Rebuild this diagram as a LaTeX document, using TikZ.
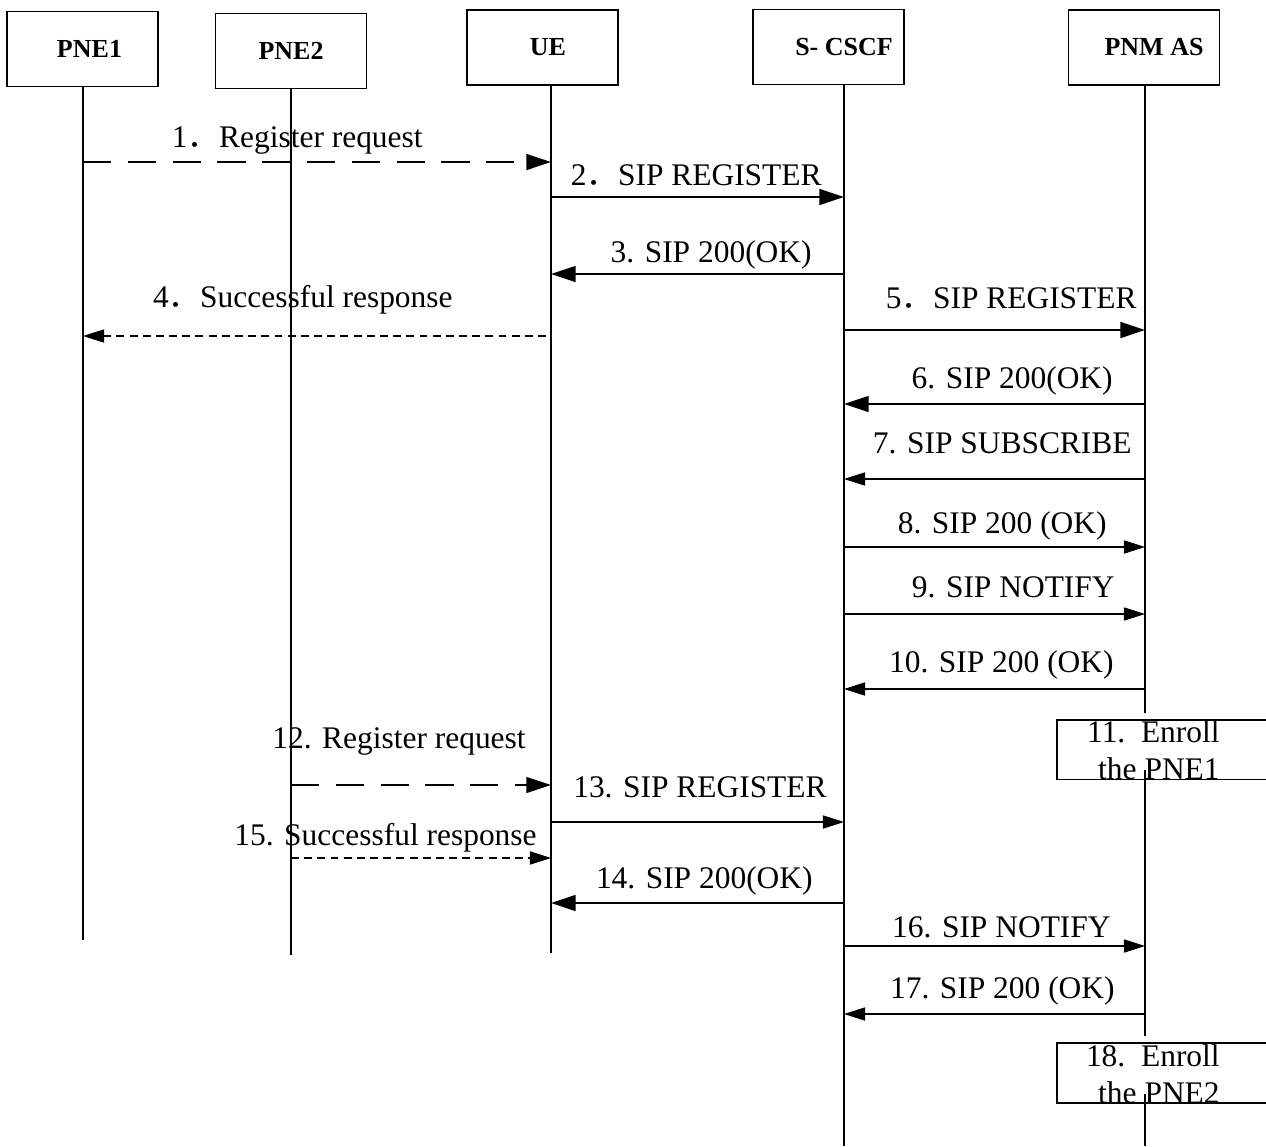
\documentclass[tikz,border=0pt]{standalone}
\usepackage{fontspec}
\setmainfont{Liberation Serif}
\newfontfamily\cjk{Noto Sans CJK SC}
\usetikzlibrary{arrows.meta}
\newcommand{\fstop}{{\cjk ．}}

\begin{document}
\begin{tikzpicture}[x=0.02cm,y=-0.02cm,
  actor/.style={draw,line width=0.85pt,minimum width=3.02cm,minimum height=1.5cm,inner sep=0},
  actorname/.style={font=\fontsize{14.8}{17}\selectfont\bfseries},
  life/.style={line width=0.85pt},
  msg/.style={anchor=base east,inner sep=0,font=\fontsize{17.9}{21}\selectfont},
  bighead/.style={-{Triangle[length=14pt,width=9pt]}},
  smallhead/.style={-{Triangle[length=12pt,width=7.5pt]}},
  thickmsg/.style={line width=1.2pt,bighead},
  thinmsg/.style={line width=0.6pt,smallhead},
  longdash/.style={dash pattern=on 16pt off 9.5pt},
  shortdash/.style={dash pattern=on 4.5pt off 3pt},
  enroll/.style={draw,line width=0.85pt,anchor=north west,minimum width=4.4cm,minimum height=1.2cm,inner sep=0}]

\useasboundingbox (0,0) rectangle (1266,1146);

\node[actor,label={[actorname,xshift=0.14cm]center:PNE1}] (pne1) at (82.5,49) {};
\node[actor,label={[actorname]center:PNE2}] (pne2) at (291,51) {};
\node[actor,label={[actorname,xshift=0.11cm]center:UE}] (ue) at (542.5,47.5) {};
\node[actor,label={[actorname,xshift=0.31cm]center:S- CSCF}] (scscf) at (828.5,47) {};
\node[actor,label={[actorname,xshift=0.2cm]center:PNM AS}] (pnmas) at (1144,47.5) {};

\coordinate (pne1-l) at (83,87);
\coordinate (pne2-l) at (291,89);
\coordinate (ue-l) at (551,85);
\coordinate (scscf-l) at (844,85);
\coordinate (pnmas-l) at (1145,85);

\node[enroll] (enroll1) at (1056,719) {};
\node[enroll] (enroll2) at (1056,1042) {};

% lifelines
\draw[life] (pne1-l) -- (pne1-l |- 0,940);
\draw[life] (pne2-l) -- (pne2-l |- 0,955);
\draw[life] (ue-l) -- (ue-l |- 0,953);
\draw[life] (scscf-l) -- (scscf-l |- 0,1146);
\draw[life] (pnmas-l) -- (pnmas-l |- 0,713);
\draw[life] (pnmas-l |- 0,770) -- (pnmas-l |- 0,1036);
\draw[life] (pnmas-l |- 0,1094) -- (pnmas-l |- 0,1146);

% registration of PNE1
\draw[thickmsg,longdash] (pne1-l |- 0,162) -- (ue-l |- 0,162);
\node[msg] (m1) at (423,147) {1\fstop Register request};
\draw[thickmsg] (ue-l |- 0,197) -- (scscf-l |- 0,197);
\node[msg] (m2) at (822,185) {2\fstop SIP REGISTER};
\draw[thickmsg] (scscf-l |- 0,274) -- (ue-l |- 0,274);
\node[msg] (m3) at (812,262) {3. SIP 200(OK)};
\draw[thinmsg,shortdash] (ue-l |- 0,336) ++(-5,0) -- (pne1-l |- 0,336);
\node[msg] (m4) at (453,307) {4\fstop Successful response};
\draw[thickmsg] (scscf-l |- 0,330) -- (pnmas-l |- 0,330);
\node[msg] (m5) at (1137,308) {5\fstop SIP REGISTER};
\draw[thickmsg] (pnmas-l |- 0,404) -- (scscf-l |- 0,404);
\node[msg] (m6) at (1113,388) {6. SIP 200(OK)};
\draw[thinmsg] (pnmas-l |- 0,479) -- (scscf-l |- 0,479);
\node[msg] (m7) at (1132,453) {7. SIP SUBSCRIBE};
\draw[thinmsg] (scscf-l |- 0,547) -- (pnmas-l |- 0,547);
\node[msg] (m8) at (1107,533) {8. SIP 200 (OK)};
\draw[thinmsg] (scscf-l |- 0,614) -- (pnmas-l |- 0,614);
\node[msg] (m9) at (1115,597) {9. SIP NOTIFY};
\draw[thinmsg] (pnmas-l |- 0,689) -- (scscf-l |- 0,689);
\node[msg] (m10) at (1114,672) {10. SIP 200 (OK)};
\node[msg,align=right,anchor=north east] (t11) at (1220,720.5) {11.\ \ Enroll\\the PNE1};

% registration of PNE2
\draw[line width=0.9pt,bighead,longdash] (pne2-l |- 0,785) -- (ue-l |- 0,785);
\node[msg] (m12) at (526,748) {12. Register request};
\draw[thinmsg] (ue-l |- 0,822) -- (scscf-l |- 0,822);
\node[msg] (m13) at (827,797) {13. SIP REGISTER};
\draw[thinmsg,shortdash] (pne2-l |- 0,858) -- (ue-l |- 0,858);
\node[msg] (m15) at (537,845) {15. Successful response};
\draw[thickmsg] (scscf-l |- 0,903) -- (ue-l |- 0,903);
\node[msg] (m14) at (813,888) {14. SIP 200(OK)};
\draw[thinmsg] (scscf-l |- 0,946) -- (pnmas-l |- 0,946);
\node[msg] (m16) at (1111,937) {16. SIP NOTIFY};
\draw[thinmsg] (pnmas-l |- 0,1014) -- (scscf-l |- 0,1014);
\node[msg] (m17) at (1115,998) {17. SIP 200 (OK)};
\node[msg,align=right,anchor=north east] (t18) at (1220,1044) {18.\ \ Enroll\\the PNE2};

\end{tikzpicture}
\end{document}
